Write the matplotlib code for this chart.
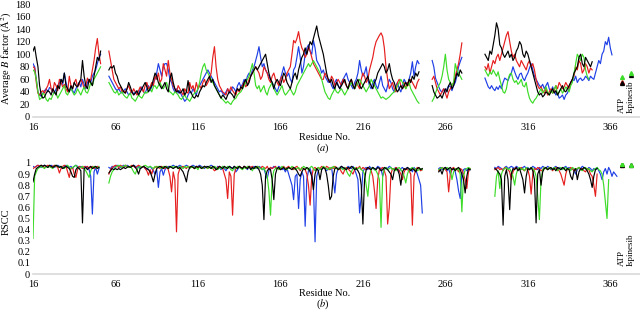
import matplotlib
matplotlib.use("Agg")
import matplotlib.pyplot as plt

plt.rcParams["font.family"] = ["Liberation Serif", "DejaVu Serif"]
plt.rcParams["mathtext.fontset"] = "stix"

COLORS = {"blue": "#1f3fe6", "red": "#e61e1e", "black": "#000000", "green": "#3cdc28"}

X_TICKS = [16, 66, 116, 166, 216, 266, 316, 366]
B_TICKS = [0, 20, 40, 60, 80, 100, 120, 140, 160, 180]
R_TICKS = [0, 0.1, 0.2, 0.3, 0.4, 0.5, 0.6, 0.7, 0.8, 0.9, 1]
R_TICK_LABELS = ["0", "0.1", "0.2", "0.3", "0.4", "0.5", "0.6", "0.7", "0.8", "0.9", "1"]

# ---- average B factor, each entry: (first residue, values) ----
B_BLUE = [
    (16, [85, 80, 60, 40, 35, 33, 38, 42, 45, 40, 47, 45, 40, 38, 45, 50, 55, 60, 52, 70, 55,
          45, 40, 48, 42, 38, 45, 50, 55, 48, 60, 52, 45, 55, 60, 55, 65, 70, 75, 85, 95, 100]),
    (62, [65, 60, 55, 50, 45, 42, 45, 40, 38, 42,
          45, 40, 35, 38, 42, 36, 40, 38, 35, 45,
          48, 40, 38, 45, 50, 42, 48, 55, 60, 70,
          85, 75, 65, 80, 85, 85, 75, 60, 55, 45,
          40, 45, 38, 42, 35, 30, 25, 28, 35, 40,
          38, 45, 40, 35, 45, 50, 55, 60, 65, 70,
          75, 70, 65, 60, 55, 50, 45, 40, 42, 38,
          35, 40, 45, 38, 42, 48, 45, 40, 50, 55,
          48, 52, 60, 55, 65, 70, 65, 75, 80, 90,
          100, 112, 95, 80, 85, 75, 70, 65, 60, 55,
          50, 45, 40, 48, 60, 70, 80, 70, 65, 70,
          60, 55, 75, 80, 95, 112, 95, 70, 80, 100,
          110, 115, 105, 100, 122, 110, 90, 85, 80, 70,
          75, 65, 60, 55, 60, 50, 45, 55, 60, 50,
          45, 55, 60, 65, 70, 60, 55, 50, 45, 55,
          60, 70, 90, 75, 65, 70, 80, 60, 50, 45,
          55, 60, 50, 45, 55, 65, 50, 45, 40, 50,
          60, 55, 45, 40, 50, 55, 45, 40, 50, 60,
          55, 50, 60, 70, 88, 65, 80, 90, 85]),
    (258, [90, 80, 62, 55, 48, 42, 40, 45, 38, 45, 50, 48, 42, 50, 55, 65, 80, 88, 95]),
    (290, [62, 55, 48, 45, 50, 45, 42, 48, 44, 50,
           45, 55, 62, 60, 58, 65, 70, 80, 72, 65,
           60, 68, 70, 62, 58, 65, 70, 78, 85, 75,
           65, 60, 55, 50, 48, 52, 45, 50, 55, 45,
           40, 48, 42, 35, 38, 30, 32, 35, 28, 35,
           38, 45, 55, 60, 58, 65, 55, 60, 62, 58,
           60, 65, 62, 58, 65, 62, 60, 70, 80, 90,
           85, 100, 105, 120, 115, 127, 110, 99]),
]
B_RED = [
    (16, [80, 78, 55, 38, 35, 40, 42, 38, 45, 50, 60, 45, 40, 55, 50, 42, 60, 55, 48, 52, 45,
          40, 65, 50, 45, 55, 60, 48, 52, 60, 55, 45, 50, 62, 55, 60, 75, 90, 110, 125, 100, 85]),
    (62, [105, 90, 75, 60, 55, 50, 45, 48, 40, 42,
          38, 45, 50, 42, 38, 45, 40, 35, 42, 48,
          45, 40, 50, 55, 45, 48, 55, 50, 65, 60,
          70, 55, 60, 85, 75, 65, 90, 70, 60, 50,
          45, 40, 50, 45, 40, 35, 45, 40, 38, 55,
          45, 50, 40, 55, 45, 50, 45, 55, 60, 50,
          55, 60, 70, 95, 112, 80, 60, 50, 45, 40,
          38, 35, 45, 40, 48, 42, 38, 35, 45, 40,
          45, 50, 55, 48, 52, 60, 65, 70, 75, 80,
          75, 70, 60, 65, 80, 75, 70, 60, 55, 65,
          70, 60, 55, 50, 60, 65, 55, 60, 70, 75,
          80, 100, 122, 118, 125, 136, 120, 110, 105, 95,
          100, 112, 105, 95, 85, 80, 75, 70, 65, 60,
          60, 70, 65, 60, 55, 65, 60, 50, 55, 60,
          55, 50, 60, 55, 50, 45, 55, 60, 50, 45,
          55, 50, 45, 60, 70, 65, 55, 60, 75, 85,
          95, 110, 120, 125, 130, 134, 128, 110, 80, 60,
          45, 50, 55, 45, 40, 55, 60, 50, 45, 55,
          45, 55, 50, 60, 55, 50, 45, 55, 60]),
    (258, [60, 65, 55, 45, 40, 35, 40, 45, 38, 30, 40, 45, 50, 55, 65, 75, 85, 100, 118]),
    (290, [80, 75, 85, 70, 80, 90, 85, 95, 100, 90,
           100, 110, 120, 130, 136, 120, 105, 95, 100, 90,
           85, 80, 90, 85, 80, 75, 85, 90, 80, 85,
           75, 60, 50, 45, 48, 42, 38, 45, 35, 40,
           45, 38, 42, 50, 45, 55, 50, 45, 48, 55,
           50, 45, 55, 60, 65, 80, 75, 90, 85, 70,
           75, 85, 80, 70, 78, 75]),
]
B_BLACK = [
    (16, [105, 112, 95, 80, 50, 35, 30, 32, 38, 42, 40, 35, 45, 40, 35, 50, 45, 60, 55, 70, 50,
          45, 40, 50, 45, 55, 50, 48, 55, 60, 90, 65, 50, 45, 60, 55, 50, 65, 80, 95, 90, 105]),
    (62, [75, 80, 78, 82, 70, 65, 55, 50, 45, 40,
          38, 45, 55, 48, 40, 35, 38, 42, 35, 40,
          45, 50, 55, 48, 40, 45, 50, 60, 70, 65,
          55, 50, 45, 50, 55, 45, 40, 60, 70, 55,
          45, 40, 42, 38, 40, 45, 35, 40, 58, 42,
          38, 32, 30, 35, 32, 40, 45, 50, 48, 55,
          60, 65, 55, 60, 50, 45, 40, 35, 30, 35,
          32, 28, 35, 40, 38, 35, 30, 40, 45, 42,
          48, 45, 55, 60, 50, 55, 65, 70, 75, 80,
          75, 80, 85, 90, 95, 100, 85, 70, 60, 55,
          45, 55, 60, 55, 50, 60, 70, 65, 55, 50,
          45, 55, 65, 70, 60, 75, 85, 95, 100, 110,
          100, 110, 120, 115, 125, 135, 145, 130, 120, 110,
          100, 85, 70, 60, 55, 60, 50, 45, 55, 50,
          45, 50, 55, 60, 50, 45, 55, 60, 50, 45,
          55, 60, 50, 45, 50, 55, 60, 65, 55, 50,
          45, 55, 60, 70, 75, 80, 85, 80, 70, 75,
          85, 70, 60, 55, 45, 40, 45, 50, 45, 50,
          55, 50, 60, 55, 65, 60, 70, 65, 72]),
    (258, [50, 40, 35, 30, 32, 35, 30, 38, 45, 40, 50, 55, 45, 50, 60, 70, 65, 75, 70]),
    (290, [100, 95, 90, 105, 100, 115, 130, 150, 140, 115,
           110, 100, 95, 100, 105, 95, 100, 90, 95, 105,
           110, 120, 115, 100, 95, 105, 100, 90, 80, 70,
           60, 50, 40, 35, 38, 32, 35, 40, 38, 35,
           40, 45, 38, 42, 35, 40, 45, 50, 42, 40,
           45, 50, 55, 60, 70, 75, 80, 95, 100, 85,
           80, 95, 90, 85, 80, 88]),
]
B_GREEN = [
    (16, [75, 72, 60, 40, 28, 30, 38, 35, 28, 25, 30, 28, 35, 40, 38, 30, 35, 40, 45, 50, 38,
          35, 42, 45, 40, 35, 38, 45, 40, 35, 42, 48, 40, 38, 45, 55, 50, 60, 65, 70, 75, 80]),
    (62, [55, 50, 45, 40, 38, 42, 35, 38, 40, 35,
          32, 30, 35, 38, 30, 28, 25, 30, 35, 32,
          30, 35, 40, 38, 42, 45, 40, 48, 50, 45,
          50, 55, 48, 45, 50, 55, 45, 40, 38, 35,
          40, 38, 35, 30, 28, 32, 35, 30, 28, 25,
          30, 35, 38, 40, 45, 55, 70, 80, 85, 75,
          70, 65, 60, 55, 50, 45, 40, 35, 30, 28,
          25, 22, 25, 22, 20, 25, 28, 30, 35, 38,
          40, 45, 50, 55, 60, 65, 75, 85, 70, 50,
          45, 50, 40, 45, 50, 40, 35, 45, 50, 55,
          45, 40, 35, 40, 45, 50, 40, 35, 38, 42,
          45, 40, 35, 40, 50, 55, 60, 65, 70, 75,
          80, 85, 80, 85, 90, 85, 80, 75, 70, 60,
          50, 40, 35, 30, 28, 35, 40, 45, 40, 38,
          42, 45, 40, 35, 40, 45, 50, 55, 50, 45,
          50, 55, 60, 55, 50, 45, 40, 45, 50, 60,
          55, 50, 45, 40, 35, 30, 32, 30, 28, 30,
          32, 35, 38, 40, 45, 50, 55, 60, 55, 50,
          45, 50, 55, 45, 40, 35, 30, 25, 22]),
    (258, [25, 30, 38, 45, 50, 55, 65, 80, 100, 75, 60, 55, 50, 55, 85, 75, 70, 65, 60]),
    (290, [75, 70, 65, 72, 68, 75, 70, 65, 72, 60,
           50, 40, 38, 45, 60, 68, 70, 60, 55, 58,
           52, 55, 60, 50, 48, 55, 40, 30, 25, 22,
           27, 30, 35, 40, 45, 38, 42, 48, 40, 35,
           42, 38, 45, 50, 35, 40, 45, 38, 42, 48,
           45, 40, 50, 55, 70, 85, 100, 95, 90, 100,
           95, 75, 65, 60]),
]

# ---- RSCC in hundredths, each entry: (first residue, values) ----
R_BLUE = [
    (16, [97, 96, 97, 98, 97, 96, 97, 98, 97, 96, 97, 98, 97, 96, 97, 98, 97, 96, 95, 97,
          98, 97, 96, 97, 95, 97, 98, 97, 96, 97, 96, 95, 97, 96, 94, 88, 54, 92, 96, 90, 95]),
    (62, [96, 95, 97, 96, 97, 98, 97, 96, 97, 98,
          97, 98, 97, 96, 97, 98, 97, 96, 97, 95,
          96, 97, 95, 94, 96, 97, 95, 93, 90, 94,
          78, 92, 95, 89, 94, 96, 97, 96, 97, 98,
          97, 96, 97, 98, 97, 96, 97, 98, 97, 96,
          97, 98, 97, 96, 97, 98, 97, 96, 95, 97,
          96, 97, 98, 97, 96, 95, 97, 96, 94, 97,
          95, 93, 96, 97, 96, 95, 97, 92, 94, 97,
          96, 95, 97, 96, 94, 97, 96, 95, 97, 96,
          95, 97, 96, 94, 95, 90, 86, 93, 96, 95,
          97, 96, 95, 97, 96, 94, 95, 92, 95, 90,
          85, 80, 67, 88, 90, 59, 85, 92, 88, 43,
          85, 93, 95, 90, 80, 29, 88, 93, 95, 94,
          96, 95, 93, 95, 94, 96, 85, 73, 90, 95,
          96, 97, 95, 96, 94, 97, 96, 95, 97, 94,
          90, 85, 55, 70, 92, 95, 96, 94, 97, 95,
          96, 94, 95, 97, 96, 95, 88, 94, 96, 95,
          97, 96, 94, 95, 96, 95, 92, 95, 96, 94,
          95, 96, 93, 95, 92, 96, 94, 90, 85, 80,
          55]),
    (262, [95, 96, 94, 95, 96, 93, 95, 90, 94, 95, 92, 85, 75, 68, 90, 94, 95, 93, 95, 94]),
    (296, [96, 95, 97, 96, 95, 94, 96, 97, 95, 96,
           97, 96, 95, 97, 96, 94, 95, 96, 97, 95,
           96, 94, 95, 97, 96, 95, 94, 96, 95, 97,
           96, 95, 97, 96, 94, 95, 96, 97, 95, 96,
           94, 95, 96, 97, 95, 96, 94, 95, 93, 90,
           94, 96, 95, 97, 96, 95, 94, 96, 95, 93,
           95, 94, 96, 93, 90, 85, 92, 95, 90, 96,
           93, 88, 92, 90, 88]),
]
R_RED = [
    (16, [95, 96, 97, 98, 97, 98, 97, 96, 97, 98, 97, 96, 97, 98, 97, 96, 91, 95, 97, 98,
          97, 92, 87, 95, 96, 90, 87, 94, 97, 96, 95, 97, 96, 97, 95, 96, 97, 95, 96, 97, 96]),
    (62, [90, 94, 96, 97, 98, 97, 96, 98, 97, 96,
          98, 97, 96, 97, 98, 97, 96, 97, 98, 97,
          96, 97, 95, 93, 89, 94, 90, 95, 96, 97,
          96, 95, 97, 96, 95, 97, 94, 88, 74, 92,
          85, 38, 90, 95, 96, 97, 96, 95, 97, 96,
          97, 96, 95, 97, 96, 97, 96, 95, 97, 96,
          95, 97, 96, 95, 93, 94, 96, 97, 96, 95,
          90, 85, 68, 92, 88, 53, 90, 95, 96, 97,
          96, 95, 97, 96, 95, 97, 96, 97, 95, 96,
          97, 96, 95, 97, 96, 95, 97, 94, 96, 95,
          96, 97, 95, 96, 94, 96, 97, 95, 96, 97,
          95, 96, 94, 96, 97, 95, 93, 96, 95, 94,
          90, 80, 62, 88, 95, 96, 94, 96, 95, 97,
          96, 95, 97, 96, 94, 96, 95, 97, 96, 94,
          95, 92, 90, 94, 96, 95, 93, 92, 90, 94,
          96, 95, 97, 94, 96, 95, 94, 96, 95, 93,
          88, 75, 59, 85, 94, 95, 96, 93, 88, 45,
          60, 90, 95, 94, 96, 95, 93, 90, 85, 92,
          95, 94, 93, 90, 44, 88, 94, 96, 95, 93,
          94]),
    (262, [93, 95, 96, 95, 94, 92, 74, 90, 95, 96, 94, 95, 92, 95, 94, 90, 85, 77, 92, 95]),
    (296, [94, 95, 96, 94, 95, 93, 96, 95, 94, 92,
           85, 92, 95, 96, 94, 95, 96, 94, 93, 95,
           94, 88, 72, 90, 95, 94, 96, 95, 93, 94,
           96, 95, 94, 96, 95, 93, 95, 96, 94, 93,
           90, 85, 80, 90, 95, 94, 96, 95, 93, 94,
           95, 96, 94, 95, 93, 92, 95, 94, 90, 88,
           80, 70, 90]),
]
R_BLACK = [
    (16, [83, 90, 95, 96, 97, 98, 97, 98, 97, 96, 98, 97, 96, 97, 98, 97, 96, 97, 95, 96,
          97, 96, 95, 92, 88, 87, 94, 96, 95, 93, 46, 95, 96, 94, 96, 97, 95, 96, 97, 95, 96]),
    (62, [91, 93, 95, 94, 95, 94, 95, 94, 95, 96,
          95, 96, 97, 96, 97, 98, 96, 94, 90, 95,
          96, 97, 96, 95, 94, 92, 88, 83, 90, 95,
          96, 97, 96, 95, 97, 96, 95, 97, 96, 95,
          96, 97, 95, 96, 94, 92, 88, 83, 92, 96,
          97, 96, 95, 97, 96, 97, 95, 96, 97, 96,
          97, 96, 95, 97, 96, 94, 95, 97, 96, 95,
          97, 96, 95, 97, 96, 95, 97, 96, 95, 97,
          96, 95, 97, 96, 95, 97, 94, 96, 95, 97,
          96, 94, 90, 80, 49, 88, 93, 95, 94, 85,
          67, 90, 95, 96, 94, 95, 96, 94, 95, 96,
          95, 94, 96, 95, 93, 90, 88, 92, 95, 94,
          96, 95, 92, 88, 76, 90, 95, 93, 85, 94,
          96, 95, 90, 80, 67, 70, 88, 95, 96, 94,
          95, 97, 96, 95, 94, 96, 95, 97, 96, 94,
          95, 93, 90, 80, 45, 85, 94, 96, 95, 94,
          96, 95, 94, 96, 95, 93, 94, 96, 95, 94,
          92, 90, 85, 93, 95, 94, 90, 80, 92, 95,
          94, 96, 95, 93, 95, 94, 92, 95, 96, 94,
          95]),
    (262, [92, 94, 90, 95, 96, 94, 95, 96, 94, 95, 93, 95, 96, 94, 90, 85, 73, 88, 95, 94]),
    (296, [95, 94, 92, 90, 85, 44, 88, 94, 85, 58,
           90, 95, 94, 96, 93, 95, 90, 85, 73, 88,
           95, 94, 96, 93, 85, 46, 90, 94, 80, 92,
           95, 96, 94, 95, 96, 94, 95, 93, 96, 95,
           94, 96, 95, 93, 95, 94, 88, 85, 93, 95,
           85, 92, 95, 94, 96, 95, 93, 90, 85, 78,
           88, 94, 95]),
]
R_GREEN = [
    (16, [32, 88, 92, 95, 96, 97, 96, 95, 97, 96, 97, 96, 95, 97, 98, 97, 96, 97, 96, 95,
          97, 98, 96, 95, 96, 97, 98, 96, 95, 96, 97, 95, 93, 90, 87, 93, 96, 97, 96, 95, 97]),
    (62, [82, 88, 92, 94, 96, 97, 98, 97, 96, 97,
          98, 97, 96, 97, 95, 92, 90, 94, 96, 97,
          96, 97, 98, 97, 96, 97, 96, 95, 97, 96,
          97, 96, 95, 97, 96, 97, 95, 96, 97, 96,
          97, 96, 95, 97, 96, 95, 97, 96, 97, 95,
          96, 97, 95, 96, 94, 97, 96, 95, 97, 96,
          95, 97, 96, 95, 97, 96, 94, 96, 95, 97,
          96, 95, 97, 96, 94, 93, 96, 95, 97, 96,
          95, 94, 96, 95, 97, 96, 95, 93, 96, 95,
          97, 96, 95, 94, 96, 92, 88, 75, 53, 85,
          93, 95, 96, 94, 95, 97, 96, 95, 94, 96,
          95, 97, 96, 94, 95, 96, 94, 95, 97, 96,
          95, 94, 96, 97, 95, 93, 95, 96, 94, 95,
          97, 96, 95, 94, 96, 95, 97, 96, 95, 94,
          96, 95, 94, 96, 93, 90, 88, 92, 95, 96,
          94, 95, 96, 94, 93, 90, 80, 70, 88, 95,
          96, 94, 93, 90, 85, 42, 88, 95, 96, 94,
          95, 96, 94, 95, 93, 95, 96, 94, 92, 88,
          82, 90, 94, 95, 96, 94, 95, 93, 94, 95,
          94]),
    (262, [94, 95, 96, 94, 95, 96, 95, 94, 85, 92, 95, 94, 95, 90, 56, 88, 94, 95, 96, 95]),
    (296, [70, 88, 93, 77, 90, 94, 95, 96, 94, 95,
           92, 88, 80, 90, 95, 96, 94, 95, 93, 96,
           95, 94, 96, 95, 93, 88, 70, 49, 85, 94,
           96, 95, 94, 96, 95, 94, 96, 95, 93, 95,
           96, 94, 95, 96, 94, 95, 93, 96, 95, 94,
           95, 96, 94, 93, 95, 96, 94, 95, 93, 92,
           94, 95, 96, 94, 93, 90, 80, 65, 50, 85]),
]

# ligand complexes shown as single triangles right of the chain
LIGANDS = ["ATP", "Ispinesib"]
LIGAND_X = [373, 378.5]
B_LIGAND = {"green": [64, 70], "red": [55, None], "black": [54, 67]}
R_LIGAND = {"green": [0.99, 0.985], "red": [0.985, None], "black": [0.98, 0.98]}

FS = 7.5


def draw_series(ax, segments, color, scale=1.0):
    for start, values in segments:
        res = list(range(start, start + len(values)))
        ax.plot(res, [v * scale for v in values], color=color, linewidth=0.85)


def style_axes(ax, yticks, ylabels, ymax):
    ax.set_xlim(16, 384)
    ax.set_ylim(0, ymax)
    ax.set_xticks(X_TICKS)
    ax.set_yticks(yticks)
    if ylabels is not None:
        ax.set_yticklabels(ylabels)
    for side in ["left", "right", "top"]:
        ax.spines[side].set_visible(False)
    ax.spines["bottom"].set_color("#d9d9d9")
    ax.spines["bottom"].set_linewidth(1.2)
    ax.tick_params(length=0, labelsize=FS)
    ax.tick_params(axis="x", pad=4)
    ax.tick_params(axis="y", pad=2)
    ax.patch.set_alpha(0)


fig = plt.figure(figsize=(6.4, 3.11), dpi=100)
ax_b = fig.add_axes([33 / 640, 1 - 117 / 311, 1 - 33 / 640, 113 / 311])
ax_r = fig.add_axes([33 / 640, 1 - 274 / 311, 1 - 33 / 640, 111 / 311])

for name, segs in [("blue", B_BLUE), ("red", B_RED), ("green", B_GREEN), ("black", B_BLACK)]:
    draw_series(ax_b, segs, COLORS[name])
for name, segs in [("blue", R_BLUE), ("red", R_RED), ("green", R_GREEN), ("black", R_BLACK)]:
    draw_series(ax_r, segs, COLORS[name], scale=0.01)

for ax, lig in [(ax_b, B_LIGAND), (ax_r, R_LIGAND)]:
    for name in ["red", "black", "green"]:
        for x, v in zip(LIGAND_X, lig[name]):
            if v is not None:
                ax.plot(x, v, marker="^", markersize=2.8, color=COLORS[name], linestyle="none")

style_axes(ax_b, B_TICKS, None, 180)
style_axes(ax_r, R_TICKS, R_TICK_LABELS, 1)

for x, lbl in zip(LIGAND_X, LIGANDS):
    ax_b.text(x, 7, lbl, rotation=90, ha="center", va="bottom", fontsize=6.5)
    ax_r.text(x, 0.07, lbl, rotation=90, ha="center", va="bottom", fontsize=6.5)

fig.text(6 / 640, 1 - 58 / 311, r"Average $B$ factor (Å$^2$)", rotation=90, ha="center", va="center", fontsize=FS)
fig.text(6 / 640, 1 - 222 / 311, "RSCC", rotation=90, ha="center", va="center", fontsize=FS)
fig.text(325 / 640, 1 - 137 / 311, "Residue No.", ha="center", va="center", fontsize=FS)
fig.text(323 / 640, 1 - 148 / 311, "($a$)", ha="center", va="center", fontsize=FS)
fig.text(325 / 640, 1 - 293 / 311, "Residue No.", ha="center", va="center", fontsize=FS)
fig.text(323 / 640, 1 - 304 / 311, "($b$)", ha="center", va="center", fontsize=FS)

fig.savefig("out.png", dpi=100)
